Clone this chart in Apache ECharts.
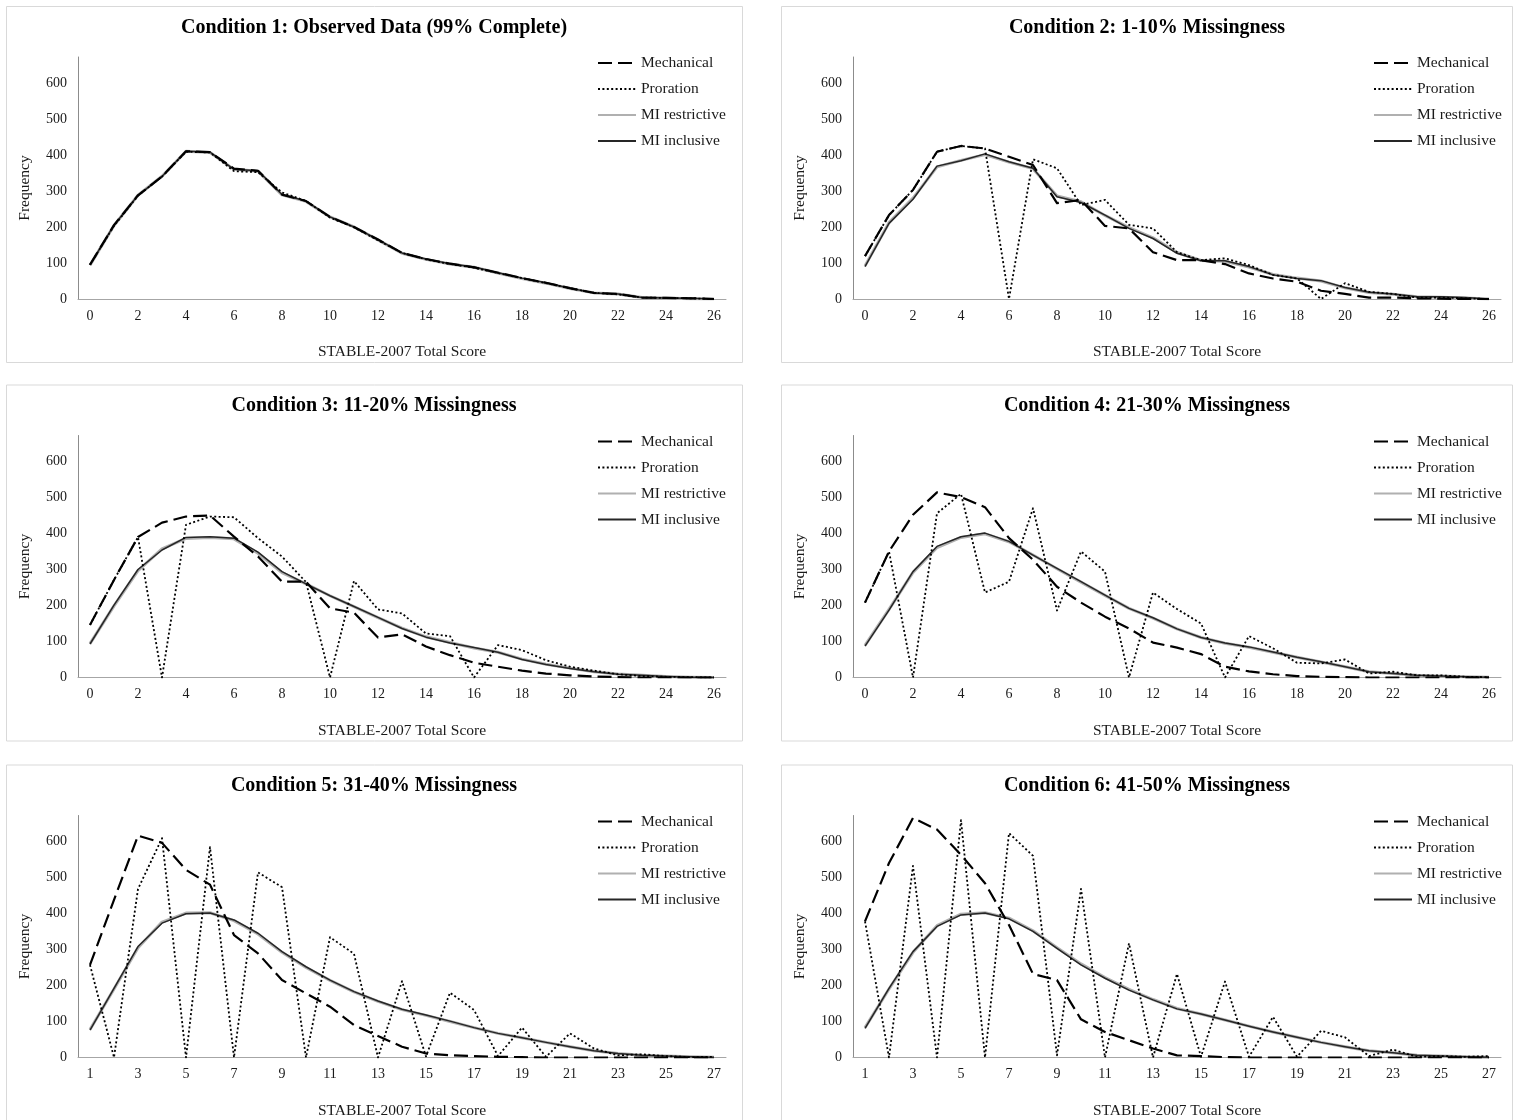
<!DOCTYPE html>
<html>
<head>
<meta charset="utf-8">
<script src="https://cdn.jsdelivr.net/npm/echarts@6/dist/echarts.min.js"></script>
<style>
html,body{margin:0;padding:0;background:#fff;}
#c{width:1513px;height:1120px;}
</style>
</head>
<body>
<div id="c"></div>
<script>
// ---------------- DATA ----------------
const seriesNames = ['Mechanical', 'Proration', 'MI restrictive', 'MI inclusive'];
const panelTitles = [
  'Condition 1: Observed Data (99% Complete)',
  'Condition 2: 1-10% Missingness',
  'Condition 3: 11-20% Missingness',
  'Condition 4: 21-30% Missingness',
  'Condition 5: 31-40% Missingness',
  'Condition 6: 41-50% Missingness'
];
const xAxisTitle = 'STABLE-2007 Total Score';
const yAxisTitle = 'Frequency';
const scoresFrom0 = ['0','1','2','3','4','5','6','7','8','9','10','11','12','13','14','15','16','17','18','19','20','21','22','23','24','25','26'];
const scoresFrom1 = ['1','2','3','4','5','6','7','8','9','10','11','12','13','14','15','16','17','18','19','20','21','22','23','24','25','26','27'];
const yTicks = { min: 0, max: 672, step: 100 };

// Condition 1
const c1Mechanical   = [95,205,288,340,410,408,362,356,290,272,228,200,165,128,111,98,88,73,58,45,30,17,14,4,3,2,0];
const c1Proration    = [95,203,287,340,409,407,355,352,296,272,226,199,163,128,110,97,87,72,58,44,30,17,13,4,3,2,0];
const c1MIrestrictive= [94,204,288,341,410,407,360,355,289,271,228,200,164,127,110,97,88,72,57,44,29,17,14,4,3,1,0];
const c1MIinclusive  = [95,205,288,340,410,408,360,356,290,272,228,200,165,128,111,98,89,73,58,45,30,17,14,4,3,2,0];
// Condition 2
const c2Mechanical   = [119,233,303,409,425,418,395,372,266,275,203,196,130,108,108,97,71,57,48,23,14,4,4,2,1,0,0];
const c2Proration    = [119,233,303,409,425,418,0,388,363,261,275,206,196,130,108,113,94,67,57,0,44,20,14,4,4,2,0];
const c2MIrestrictive= [92,212,280,367,385,401,380,362,286,270,232,198,170,129,107,105,89,68,58,50,31,18,13,6,5,3,0];
const c2MIinclusive  = [90,210,277,369,384,403,381,363,284,268,233,196,168,127,106,106,90,67,57,51,32,19,14,6,6,4,0];
// Condition 3
const c3Mechanical   = [146,271,390,430,447,450,391,336,266,266,192,180,111,120,86,62,41,30,19,11,6,3,1,0,0,0,0];
const c3Proration    = [146,271,390,0,424,447,445,387,336,265,0,268,189,178,122,115,0,90,76,48,30,19,9,4,2,1,0];
const c3MIrestrictive= [94,199,297,357,386,389,385,345,291,260,227,197,166,137,113,97,82,70,51,37,26,16,10,6,3,1,0];
const c3MIinclusive  = [93,201,300,354,389,391,387,348,294,260,227,197,167,136,112,96,83,70,50,36,25,16,9,6,3,1,0];
// Condition 4
const c4Mechanical   = [208,350,452,514,501,473,387,327,252,208,169,136,97,83,65,30,17,9,4,2,1,0,0,0,0,0,0];
const c4Proration    = [208,350,0,456,510,236,266,470,186,350,294,0,236,190,150,0,115,81,41,39,50,11,16,6,6,2,1];
const c4MIrestrictive= [89,189,292,361,389,399,377,340,302,265,228,192,165,135,111,95,84,70,56,43,30,16,11,6,4,2,1];
const c4MIinclusive  = [87,187,294,364,391,401,378,340,303,266,229,192,166,135,111,96,85,71,56,44,30,16,11,6,4,2,1];
// Condition 5
const c5Mechanical   = [257,438,616,596,521,480,340,289,215,178,141,90,60,30,11,6,4,2,1,0,0,0,0,0,0,0,0];
const c5Proration    = [257,0,468,609,0,584,0,514,473,0,334,288,0,212,3,180,132,4,83,2,67,25,6,9,4,1,2];
const c5MIrestrictive= [78,190,305,376,401,402,380,343,292,250,214,182,156,133,117,100,83,67,55,42,30,19,11,6,4,2,1];
const c5MIinclusive  = [76,192,308,373,399,401,382,345,294,252,215,183,157,134,118,101,83,67,55,42,30,19,11,6,4,2,1];
// Condition 6
const c6Mechanical   = [378,540,665,633,563,484,368,232,215,106,71,48,25,6,4,1,0,0,0,0,0,0,0,0,0,0,0];
const c6Proration    = [378,0,532,0,659,0,623,560,6,468,0,317,0,232,2,211,2,113,2,74,56,4,22,2,4,2,4];
const c6MIrestrictive= [83,190,292,366,398,402,387,352,305,260,222,189,161,136,121,104,87,71,56,42,30,19,13,6,4,2,1];
const c6MIinclusive  = [81,192,294,364,396,401,385,350,303,257,220,187,160,135,121,104,87,71,56,42,30,19,13,6,4,2,1];

const panels = [
  { cats: scoresFrom0, values: [c1Mechanical, c1Proration, c1MIrestrictive, c1MIinclusive] },
  { cats: scoresFrom0, values: [c2Mechanical, c2Proration, c2MIrestrictive, c2MIinclusive] },
  { cats: scoresFrom0, values: [c3Mechanical, c3Proration, c3MIrestrictive, c3MIinclusive] },
  { cats: scoresFrom0, values: [c4Mechanical, c4Proration, c4MIrestrictive, c4MIinclusive] },
  { cats: scoresFrom1, values: [c5Mechanical, c5Proration, c5MIrestrictive, c5MIinclusive] },
  { cats: scoresFrom1, values: [c6Mechanical, c6Proration, c6MIrestrictive, c6MIinclusive] }
];

// ---------------- STYLE / LAYOUT ----------------
const FONT = '"Liberation Serif", "Times New Roman", serif';
const TXT = '#1a1a1a';
const lineStyles = [
  { color: '#000000', width: 2.2, type: [14, 6], z: 4 },
  { color: '#000000', width: 1.8, type: [2, 2.4], z: 5 },
  { color: '#b0b0b0', width: 3,   type: 'solid', z: 2 },
  { color: '#262626', width: 1.5, type: 'solid', z: 3 }
];
const colGridLeft = [78, 853];
const colPanelLeft = [6, 781];
const colPanelWidth = [736, 731];
const colCenter = [374, 1147];
const colLegendLeft = [597, 1373];
const colFreqX = [25, 800];
const rowOffset = [0, 378.5, 758.5];

const chart = echarts.init(document.getElementById('c'), null, { renderer: 'canvas' });

const grid = [], xAxis = [], yAxis = [], series = [], legend = [], title = [], graphics = [];

panels.forEach((p, i) => {
  const col = i % 2, row = Math.floor(i / 2);
  const off = rowOffset[row];

  graphics.push({
    type: 'rect', silent: true, z: -10,
    shape: { x: colPanelLeft[col] + 0.5, y: 6.5 + off, width: colPanelWidth[col], height: row === 2 ? 380 : 356 },
    style: { fill: '#ffffff', stroke: '#d9d9d9', lineWidth: 1 }
  });
  graphics.push({
    type: 'text', silent: true,
    x: colFreqX[col], y: 188 + off, rotation: Math.PI / 2,
    style: { text: yAxisTitle, font: '15.5px ' + FONT, fill: TXT, align: 'center', verticalAlign: 'middle' }
  });

  title.push({
    text: panelTitles[i], left: colCenter[col], top: 17.5 + off, textAlign: 'center', padding: 0,
    textStyle: { fontFamily: FONT, fontWeight: 'bold', fontSize: 20, color: '#000' }
  });

  grid.push({ left: colGridLeft[col], top: 57 + off, width: 648, height: 242, containLabel: false, outerBoundsMode: 'none' });

  xAxis.push({
    type: 'category', gridIndex: i, data: p.cats, boundaryGap: true,
    axisLine: { show: true, lineStyle: { color: '#a6a6a6', width: 1 } },
    axisTick: { show: false },
    splitLine: { show: false },
    axisLabel: { interval: 1, margin: 10, fontFamily: FONT, fontSize: 14, color: TXT },
    name: xAxisTitle, nameLocation: 'middle', nameGap: 45, nameMoveOverlap: false,
    nameTextStyle: { fontFamily: FONT, fontSize: 15.5, color: TXT }
  });

  yAxis.push({
    type: 'value', gridIndex: i, min: yTicks.min, max: yTicks.max, interval: yTicks.step,
    axisLine: { show: true, lineStyle: { color: '#8c8c8c', width: 1 } },
    axisTick: { show: false },
    splitLine: { show: false },
    axisLabel: { showMaxLabel: false, margin: 11, fontFamily: FONT, fontSize: 14, color: TXT }
  });

  legend.push({
    orient: 'vertical', left: colLegendLeft[col], top: 55 + off, padding: 0,
    itemWidth: 38, itemHeight: 14, itemGap: 10, selectedMode: false,
    itemStyle: { color: 'transparent', borderWidth: 0, opacity: 0 },
    data: seriesNames,
    textStyle: { fontFamily: FONT, fontSize: 15.5, color: TXT }
  });

  seriesNames.forEach((name, k) => {
    const st = lineStyles[k];
    series.push({
      name: name, type: 'line', xAxisIndex: i, yAxisIndex: i,
      data: p.values[k], symbol: 'none', showSymbol: false, smooth: false,
      z: st.z, silent: true,
      color: st.color,
      itemStyle: { color: st.color },
      lineStyle: { color: st.color, width: st.width, type: st.type, cap: 'butt', join: 'round' },
      emphasis: { disabled: true }
    });
  });
});

chart.setOption({
  animation: false,
  backgroundColor: '#ffffff',
  title: title,
  legend: legend,
  grid: grid,
  xAxis: xAxis,
  yAxis: yAxis,
  series: series,
  graphic: { elements: graphics }
});
</script>
</body>
</html>
